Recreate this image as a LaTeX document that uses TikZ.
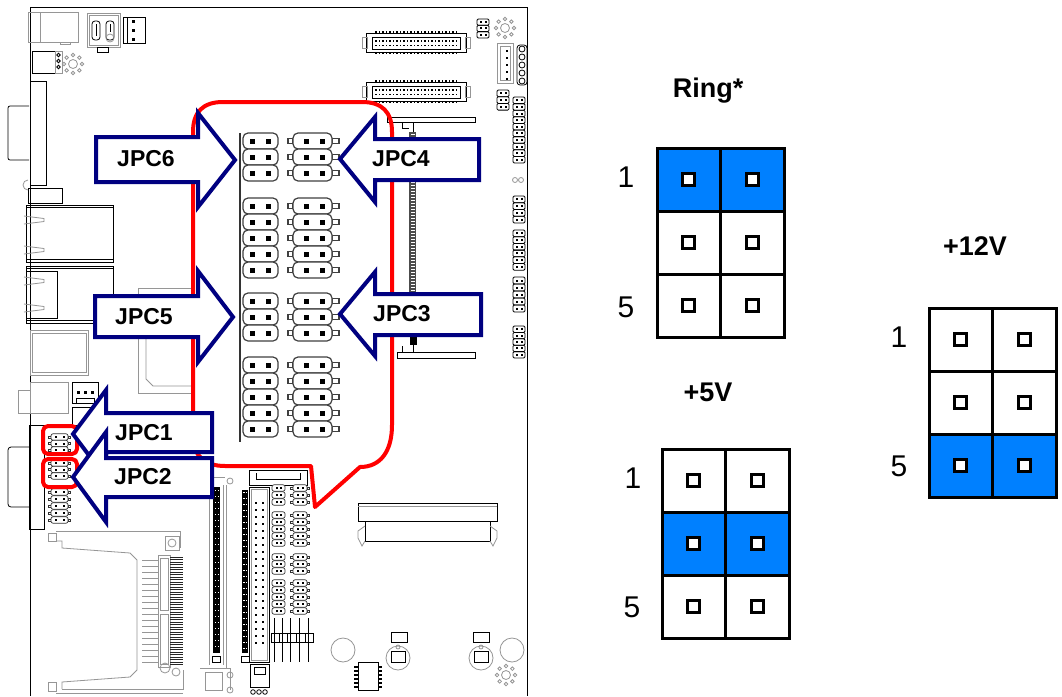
\documentclass[tikz,border=0pt]{standalone}
\usepackage{fontspec}
\setmainfont{Liberation Sans}
\definecolor{navyb}{RGB}{0,0,128}
\definecolor{jblue}{RGB}{0,128,255}
\definecolor{gline}{RGB}{150,150,150}
\tikzset{
 bd/.style={draw=black, line width=1},
 bl/.style={draw=black, line width=0.8},
 gl/.style={draw=gline, line width=0.8},
 outl/.style={draw=red, line width=4, line join=round},
 arrowshape/.style={draw=navyb, fill=white, line width=4, line join=miter},
 lab/.style={font=\fontsize{23}{23}\selectfont\bfseries, text=black, inner sep=0},
 ttl/.style={font=\fontsize{27}{27}\selectfont\bfseries, inner sep=0},
 num/.style={font=\fontsize{30}{30}\selectfont, inner sep=0},
 gridl/.style={draw=black, line width=3},
 pinsq/.style={draw=black, line width=3, fill=white},
 bigpill/.style={draw=black!75, line width=1.2, rounded corners=5, fill=white},
 smpill/.style={draw=black!80, line width=0.7, rounded corners=2, fill=white},
}
\newcommand\bigL[1]{%
 \draw[bigpill] (243,#1-8) rectangle (278,#1+8);
 \fill (250,#1-2.5) rectangle ++(5,5); \fill (266,#1-2.5) rectangle ++(5,5);}
\newcommand\bigR[1]{%
 \draw[black!75,line width=1.2] (288,#1-2.5) rectangle (293,#1+2.5);
 \draw[black!75,line width=1.2] (332,#1-2.5) rectangle (339,#1+2.5);
 \draw[bigpill] (293,#1-8) rectangle (332,#1+8);
 \fill (304,#1-2.5) rectangle ++(5,5); \fill (320,#1-2.5) rectangle ++(5,5);}
\newcommand\smL[3]{%
 \draw[smpill] (#1,#3-3.2) rectangle (#2,#3+3.2);
 \fill (#1+3.5,#3-1) rectangle ++(2,2); \fill (#2-5.5,#3-1) rectangle ++(2,2);}
\newcommand\smT[3]{%
 \draw[black!80,line width=0.6] (#1-2.5,#3-1.2) rectangle (#1,#3+1.2);
 \draw[black!80,line width=0.6] (#2,#3-1.2) rectangle (#2+2.5,#3+1.2);
 \smL{#1}{#2}{#3}}
\newcommand\twohdr[4]{%
 \foreach \k in {1,...,#3} {
  \draw[bl,rounded corners=1.2] (#1,{#2+(\k-1)*#4}) rectangle ++(12,#4);
  \fill ({#1+2.5},{#2+(\k-0.5)*#4-1}) rectangle ++(2,2);
  \fill ({#1+7.5},{#2+(\k-0.5)*#4-1}) rectangle ++(2,2);
 }}
\newcommand\mhole[2]{%
 \draw[gl] (#1,#2) circle (4.5);
 \foreach \a in {0,45,...,315} \draw[gl] ([shift={(\a:9)}]#1,#2) circle (1.8);}
\newcommand\jgrid[3]{% x0, y0, filled row
 \begin{scope}[shift={(#1,#2)}]
  \fill[jblue] (0,{(#3-1)*63}) rectangle (127,{#3*63});
  \draw[gridl] (0,0) rectangle (127,189);
  \draw[gridl] (63.5,0) -- (63.5,189);
  \draw[gridl] (0,63) -- (127,63);
  \draw[gridl] (0,126) -- (127,126);
  \foreach \cx in {31.75,95.25} \foreach \cy in {31.5,94.5,157.5}
   \draw[pinsq] (\cx-6,\cy-6) rectangle (\cx+6,\cy+6);
 \end{scope}}
\begin{document}
\begin{tikzpicture}[x=1pt,y=-1pt]
\useasboundingbox (0,0) rectangle (1062,696);
\fill[white] (0,0) rectangle (1062,696);
% ---------------- board outline
\draw[bd] (30,696) -- (30,7) -- (527,7) -- (527,696);
% top-left parts
\draw[gl] (28,12) rectangle (78,42); \draw[gl] (40,12) -- (40,42); \draw[gl] (60,42) rectangle (70,44);
\draw[gl] (87,13) rectangle (120,47); \draw[gl] (89,15) rectangle (118,45);
\draw[bl,rounded corners=3] (92,21) rectangle (100,40); \draw[bl,rounded corners=3] (106,21) rectangle (114,40);
\draw[bl] (96,24) -- (96,36); \draw[bl] (110,24) -- (110,32); \draw[gl] (110,38) circle (4);
\draw[bl] (97,47) rectangle (108,52);
\draw[bl] (123,17) rectangle (145,43); \draw[bl] (127,17) -- (127,43);
\foreach \y in {20,29,38} \fill (132,\y) rectangle ++(2.5,2.5);
\draw[bl] (32,51) rectangle (55,73); \draw[gl] (55,51) rectangle (62,73);
\foreach \y in {55,61,67} \draw[bl] (58.5,\y) circle (1.8);
\mhole{73}{64}
\draw[bl] (30,81) rectangle (46,185);
\draw[bl,rounded corners=2] (29,106) -- (8,106) -- (8,160) -- (29,160);
\draw[bl] (28,188) rectangle (62,203); \draw[gl] (28,190) arc (90:270:5);
% RJ45
\draw[bl] (26,205) rectangle (113,262); \draw[bl] (26,207.5) -- (113,207.5); \draw[bl] (26,259.5) -- (113,259.5);
\foreach \y in {220,250} \draw[gl] (24,\y-4) -- (44,\y-1.5) -- (44,\y+1.5) -- (24,\y+4);
\draw[bl] (26,266) rectangle (113,323); \draw[bl] (26,268.5) -- (113,268.5); \draw[bl] (26,320.5) -- (113,320.5);
\draw[bl] (26,271) rectangle (57,318);
\foreach \y in {281,308} \draw[gl] (24,\y-4) -- (44,\y-1.5) -- (44,\y+1.5) -- (24,\y+4);
\draw[gl] (30,330) rectangle (88,375); \draw[gl] (32,333) rectangle (86,372);
\draw[gl] (30,382) rectangle (68,413); \draw[gl] (18,390) rectangle (30,413);
\draw[bl] (72,382) rectangle (98,403); \foreach \x in {77,84,91} \fill (\x,391) rectangle ++(2.5,2.5);
\draw[bl] (76,398) rectangle (94,403);
\draw[bl] (72,407) rectangle (98,425);
% chip
\draw[gl] (193,288) -- (138,288) -- (138,393) -- (193,393);
\draw[gl] (193,295) -- (146,295) -- (146,379) -- (153,386) -- (193,386);
% DB2
\draw[bl] (29,425) rectangle (44,529);
\draw[bl,rounded corners=3] (29,447) -- (8,447) -- (8,507) -- (29,507);
% small jumpers on left
\foreach \y in {437,443.5,450,463,469.5,476,492,499,506,513,520} {\smT{51}{68}{\y}}
% CF slot
\draw[gl] (48,533) rectangle (56,541);
\draw[gl] (56,531) -- (180,531) -- (180,548);
\draw[gl] (56,541) -- (62,541) -- (62,548) -- (130,553) -- (137,560) -- (137,670) -- (130,677) -- (62,682) -- (62,689);
\draw[gl] (48,682) rectangle (56,691); \draw[gl] (56,693) -- (183,693);
\draw[gl] (62,689) -- (183,689) -- (183,670);
\draw[gl] (165,536) -- (179,536) -- (179,550) -- (165,550) -- cycle; \draw[gl] (172,543) circle (4);
\draw[gl] (158,555) rectangle (170,667); \draw[gl] (160,558) rectangle (168,610); \draw[gl] (160,614) rectangle (168,664);
\foreach \y in {560,566,...,664} \draw[gl] (142,\y) -- (158,\y);
\foreach \y in {557,559.5,...,666} \draw[black!85,line width=0.7] (170,\y) -- (183,\y);
\draw[gl] (165,668) circle (5); \draw[gl] (176,672) circle (4);
% long strips
\fill[black] (213,487) rectangle (220,653);
\fill[black] (242,490) rectangle (248,653);
\foreach \y in {490,496,...,650} {\fill[white] (214.5,\y) rectangle ++(1.3,1.3); \fill[white] (217.5,\y) rectangle ++(1.3,1.3);
 \fill[white] (243.3,\y+2) rectangle ++(1.2,1.2); \fill[white] (246,\y+2) rectangle ++(1.2,1.2);}
\draw[gl] (209,480) -- (209,665); \draw[gl] (223,485) -- (223,665); \draw[gl] (226,485) -- (226,668);
\draw[gl] (213,477) -- (225,477); \draw[gl] (230,481) circle (3);
\draw[bl] (212,656) rectangle (220,662); \draw[bl] (241,656) rectangle (249,662);
\draw[gl] (200,668) -- (230,668) -- (230,690); \draw[gl] (230,675) circle (3); \draw[gl] (230,690) circle (3);
\draw[gl] (205,672) rectangle (222,690);
% IDE connector
\draw[bl] (249,487) rectangle (269,662); \draw[gl] (251,489) rectangle (267,660);
\foreach \y in {502,509,...,645} {\fill (254.5,\y) rectangle ++(2,2); \fill (261.5,\y) rectangle ++(2,2);}
\draw[bl] (249,470) rectangle (307,485); \draw[bl] (256,473) -- (256,479) -- (300,479) -- (300,473);
\draw[bl] (250,664) rectangle (269,687); \draw[bl] (254,667) rectangle (265,674);
\foreach \x in {253,259,265} \draw[bl] (\x,692) circle (2.3);
% lower-mid jumpers
\foreach \y in {488,495,502,515,522,529,536,543,557,564,571,583,590,597,604,611} {\smL{272}{285}{\y}\smT{293}{307}{\y}}
\draw[bl] (271,633) rectangle (313,642);
\foreach \x in {274,282,290,299,308} {\draw[bl] (\x,618) -- (\x,662); \draw[bl] (\x-2.5,633) -- (\x-2.5,642);}
% SO-DIMM
\draw[bl] (358,503) rectangle (497,521); \draw[gl] (358,506) -- (497,506);
\draw[bl] (365,521) -- (365,541) -- (490,541) -- (490,521);
\draw[gl] (365,526) -- (358,531) -- (358,538) -- (362,546) -- (365,541);
\draw[gl] (490,526) -- (497,531) -- (497,538) -- (493,546) -- (490,541);
% bottom parts
\draw[gl] (343,650) circle (12);
\draw[bl] (391,632) rectangle (407,642); \draw[gl] (398,658) circle (12); \draw[bl] (391,651) rectangle (405,662); \draw[gl] (398,647) circle (2);
\draw[bl] (473,632) rectangle (489,642); \draw[gl] (481,658) circle (12); \draw[bl] (474,651) rectangle (488,662); \draw[gl] (481,647) circle (2);
\draw[gl] (512,650) circle (12);
\mhole{506}{675}
\draw[bl] (358,662) rectangle (378,690);
\foreach \y in {666,670,...,686} {\fill (354,\y) rectangle ++(4,2); \fill (378,\y) rectangle ++(4,2);}
% IDC connectors
\foreach \yy in {33,82} {
 \draw[bl] (366,\yy) rectangle (466,\yy+19); \draw[bl] (372,\yy+4) rectangle (460,\yy+16);
 \draw[gl] (362,\yy+4) rectangle (367,\yy+15); \draw[gl] (465,\yy+4) rectangle (470,\yy+15);
 \foreach \x in {375,378.5,...,457} {\fill (\x,\yy+7) rectangle ++(1.8,1.8); \fill (\x,\yy+11.5) rectangle ++(1.8,1.8);
  \fill (\x,\yy-2) rectangle ++(1.8,2); \fill (\x,\yy+19) rectangle ++(1.8,2);}
}
% top right
\twohdr{477}{19}{3}{6.3}
\mhole{505}{28}
\draw[gl] (497,43) rectangle (513,83); \draw[gl] (500,46) rectangle (510,80);
\foreach \y in {50,57,64,71,78} \fill (506,\y) rectangle ++(2,2);
\draw[bl,rounded corners=3] (517,45) rectangle (527,85);
\foreach \y in {49,57,65,73,81} \draw[bl] (522,\y) circle (3);
\twohdr{497}{90}{3}{6.7}
\twohdr{513}{97}{10}{6.6}
\draw[gl] (515,180) circle (2.5); \draw[gl] (521,180) circle (2.5);
\twohdr{513}{196}{4}{6.75}
\twohdr{513}{230}{6}{6.7}
\twohdr{513}{277}{5}{7}
\twohdr{513}{326}{5}{6.4}
% bracket + strip
\draw[bl] (387,117) rectangle (475,122);
\draw[bl] (402,122) -- (402,128) -- (409,128); \draw[bl] (413,122) -- (413,132);
\fill[black!70] (409,132) rectangle (416,337);
\foreach \y in {134,137,...,335} \fill[white] (410.5,\y) rectangle ++(4,1);
\fill[black] (410,337) rectangle (417,345);
\draw[bl] (413,345) -- (413,352); \draw[bl] (402,346) -- (402,352);
\draw[bl] (397,352) rectangle (475,358);
% jumper block in outline
\draw[black!80,line width=1.5] (240,133) -- (240,442);
\foreach \y in {141,157,173,206,222,238,254,270,301,317,333,365,381,397,413,429} {\bigL{\y}\bigR{\y}}
% ---------------- red outline
\draw[outl] (193,300) -- (193,132) .. controls (193,112) and (203,102) .. (223,102) -- (362,102)
 .. controls (382,102) and (392,112) .. (392,132) -- (392,425) .. controls (392,452) and (380,467) .. (360,467)
 -- (315,507) -- (311,466) -- (225,466) .. controls (205,466) and (193,456) .. (193,436) -- cycle;
\draw[outl,rounded corners=5] (43,426) rectangle (77,454);
\draw[outl,rounded corners=5] (43,459) rectangle (77,487);
% ---------------- blue arrows
\draw[arrowshape] (96,137) -- (198,137) -- (198,113) -- (235,160) -- (198,207) -- (198,182) -- (96,182) -- cycle;
\draw[arrowshape] (340,159) -- (375,117) -- (375,139) -- (479,139) -- (479,180) -- (375,180) -- (375,202) -- cycle;
\draw[arrowshape] (95,296) -- (198,296) -- (198,271) -- (233,317) -- (198,362) -- (198,337) -- (95,337) -- cycle;
\draw[arrowshape] (340,314) -- (375,272) -- (375,294) -- (481,294) -- (481,335) -- (375,335) -- (375,356) -- cycle;
\draw[arrowshape] (73,434) -- (106,390) -- (106,413) -- (212,413) -- (212,452) -- (106,452) -- (106,478) -- cycle;
\draw[arrowshape] (73,477) -- (106,432) -- (106,458) -- (212,458) -- (212,497) -- (106,497) -- (106,522) -- cycle;
\node[lab] (jpc6) at (146,159) {JPC6};
\node[lab] (jpc4) at (401,159) {JPC4};
\node[lab] (jpc5) at (144,317) {JPC5};
\node[lab] (jpc3) at (402,314) {JPC3};
\node[lab] (jpc1) at (144,433) {JPC1};
\node[lab] (jpc2) at (143,477) {JPC2};
% ---------------- jumper setting diagrams
\jgrid{657}{148}{1}
\jgrid{662}{449}{2}
\jgrid{929}{308}{3}
\node[ttl] (tring) at (708,91) {Ring*};
\node[ttl] (t5v) at (708,392) {+5V};
\node[ttl] (t12v) at (975,246) {+12V};
\node[num] (r1) at (626,177) {1};
\node[num] (r5) at (626,307) {5};
\node[num] (f1) at (633,478) {1};
\node[num] (f5) at (632,607) {5};
\node[num] (w1) at (899,337) {1};
\node[num] (w5) at (899,466) {5};
\end{tikzpicture}
\end{document}
